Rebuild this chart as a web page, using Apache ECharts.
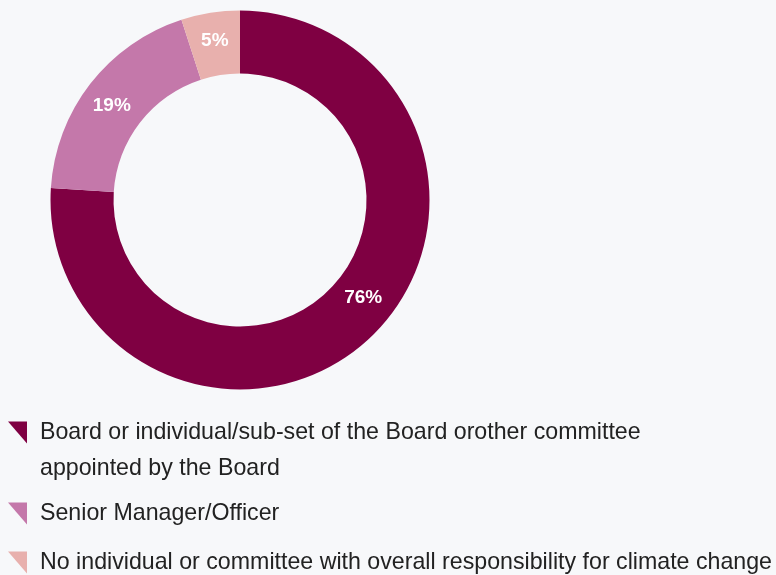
<!DOCTYPE html>
<html>
<head>
<meta charset="utf-8">
<style>
  html, body { margin: 0; padding: 0; background: #f7f8fa; }
  #chart { width: 776px; height: 575px; }
</style>
<script src="https://cdn.jsdelivr.net/npm/echarts@6/dist/echarts.min.js"></script>
</head>
<body>
<div id="chart"></div>
<script>
// Who holds responsibility for climate change (share of respondents, %)
const categories = [
  'Board or individual/sub-set of the Board orother committee',
  'Senior Manager/Officer',
  'No individual or committee with overall responsibility for climate change'
];
// second line of the first legend entry
const firstCategoryContinued = 'appointed by the Board';
const shares = [76, 19, 5];
const sliceColors = ['#7f0042', '#c478aa', '#e8b0ad'];

const FONT = 'Liberation Sans, Arial, Helvetica, sans-serif';
const LEGEND_FONT_SIZE = 23.2;

const chart = echarts.init(document.getElementById('chart'), null, { renderer: 'canvas' });

const legendTops = [421, 502, 551];
const triangle = 'path://M0,0 L10,0 L10,10 Z';

const legends = categories.map((name, i) => ({
  orient: 'vertical',
  left: 8,
  top: legendTops[i],
  padding: 0,
  itemWidth: 19,
  itemHeight: 22,
  itemGap: 0,
  icon: triangle,
  symbolKeepAspect: false,
  selectedMode: false,
  data: [name],
  textStyle: {
    fontFamily: FONT,
    fontSize: LEGEND_FONT_SIZE,
    color: '#222222',
    padding: [0, 0, 0, 8]
  }
}));

chart.setOption({
  backgroundColor: '#f7f8fa',
  animation: false,
  color: sliceColors,
  legend: legends,
  graphic: [{
    type: 'text',
    left: 40,
    top: 469 - LEGEND_FONT_SIZE / 2,
    silent: true,
    style: {
      text: firstCategoryContinued,
      font: LEGEND_FONT_SIZE + 'px ' + FONT,
      fill: '#222222'
    }
  }],
  series: [{
    type: 'pie',
    center: [240, 200],
    radius: [126.5, 189.5],
    startAngle: 90,
    clockwise: true,
    avoidLabelOverlap: false,
    label: {
      show: true,
      position: 'inside',
      formatter: '{c}%',
      color: '#ffffff',
      fontFamily: FONT,
      fontWeight: 'bold',
      fontSize: 19
    },
    labelLine: { show: false },
    emphasis: { disabled: true },
    itemStyle: { borderWidth: 0 },
    data: categories.map((name, i) => ({
      name: name,
      value: shares[i],
      label: i === 0 ? { offset: [13, -20] } : (i === 1 ? { offset: [-1, 4] } : {})
    }))
  }]
});
</script>
</body>
</html>
